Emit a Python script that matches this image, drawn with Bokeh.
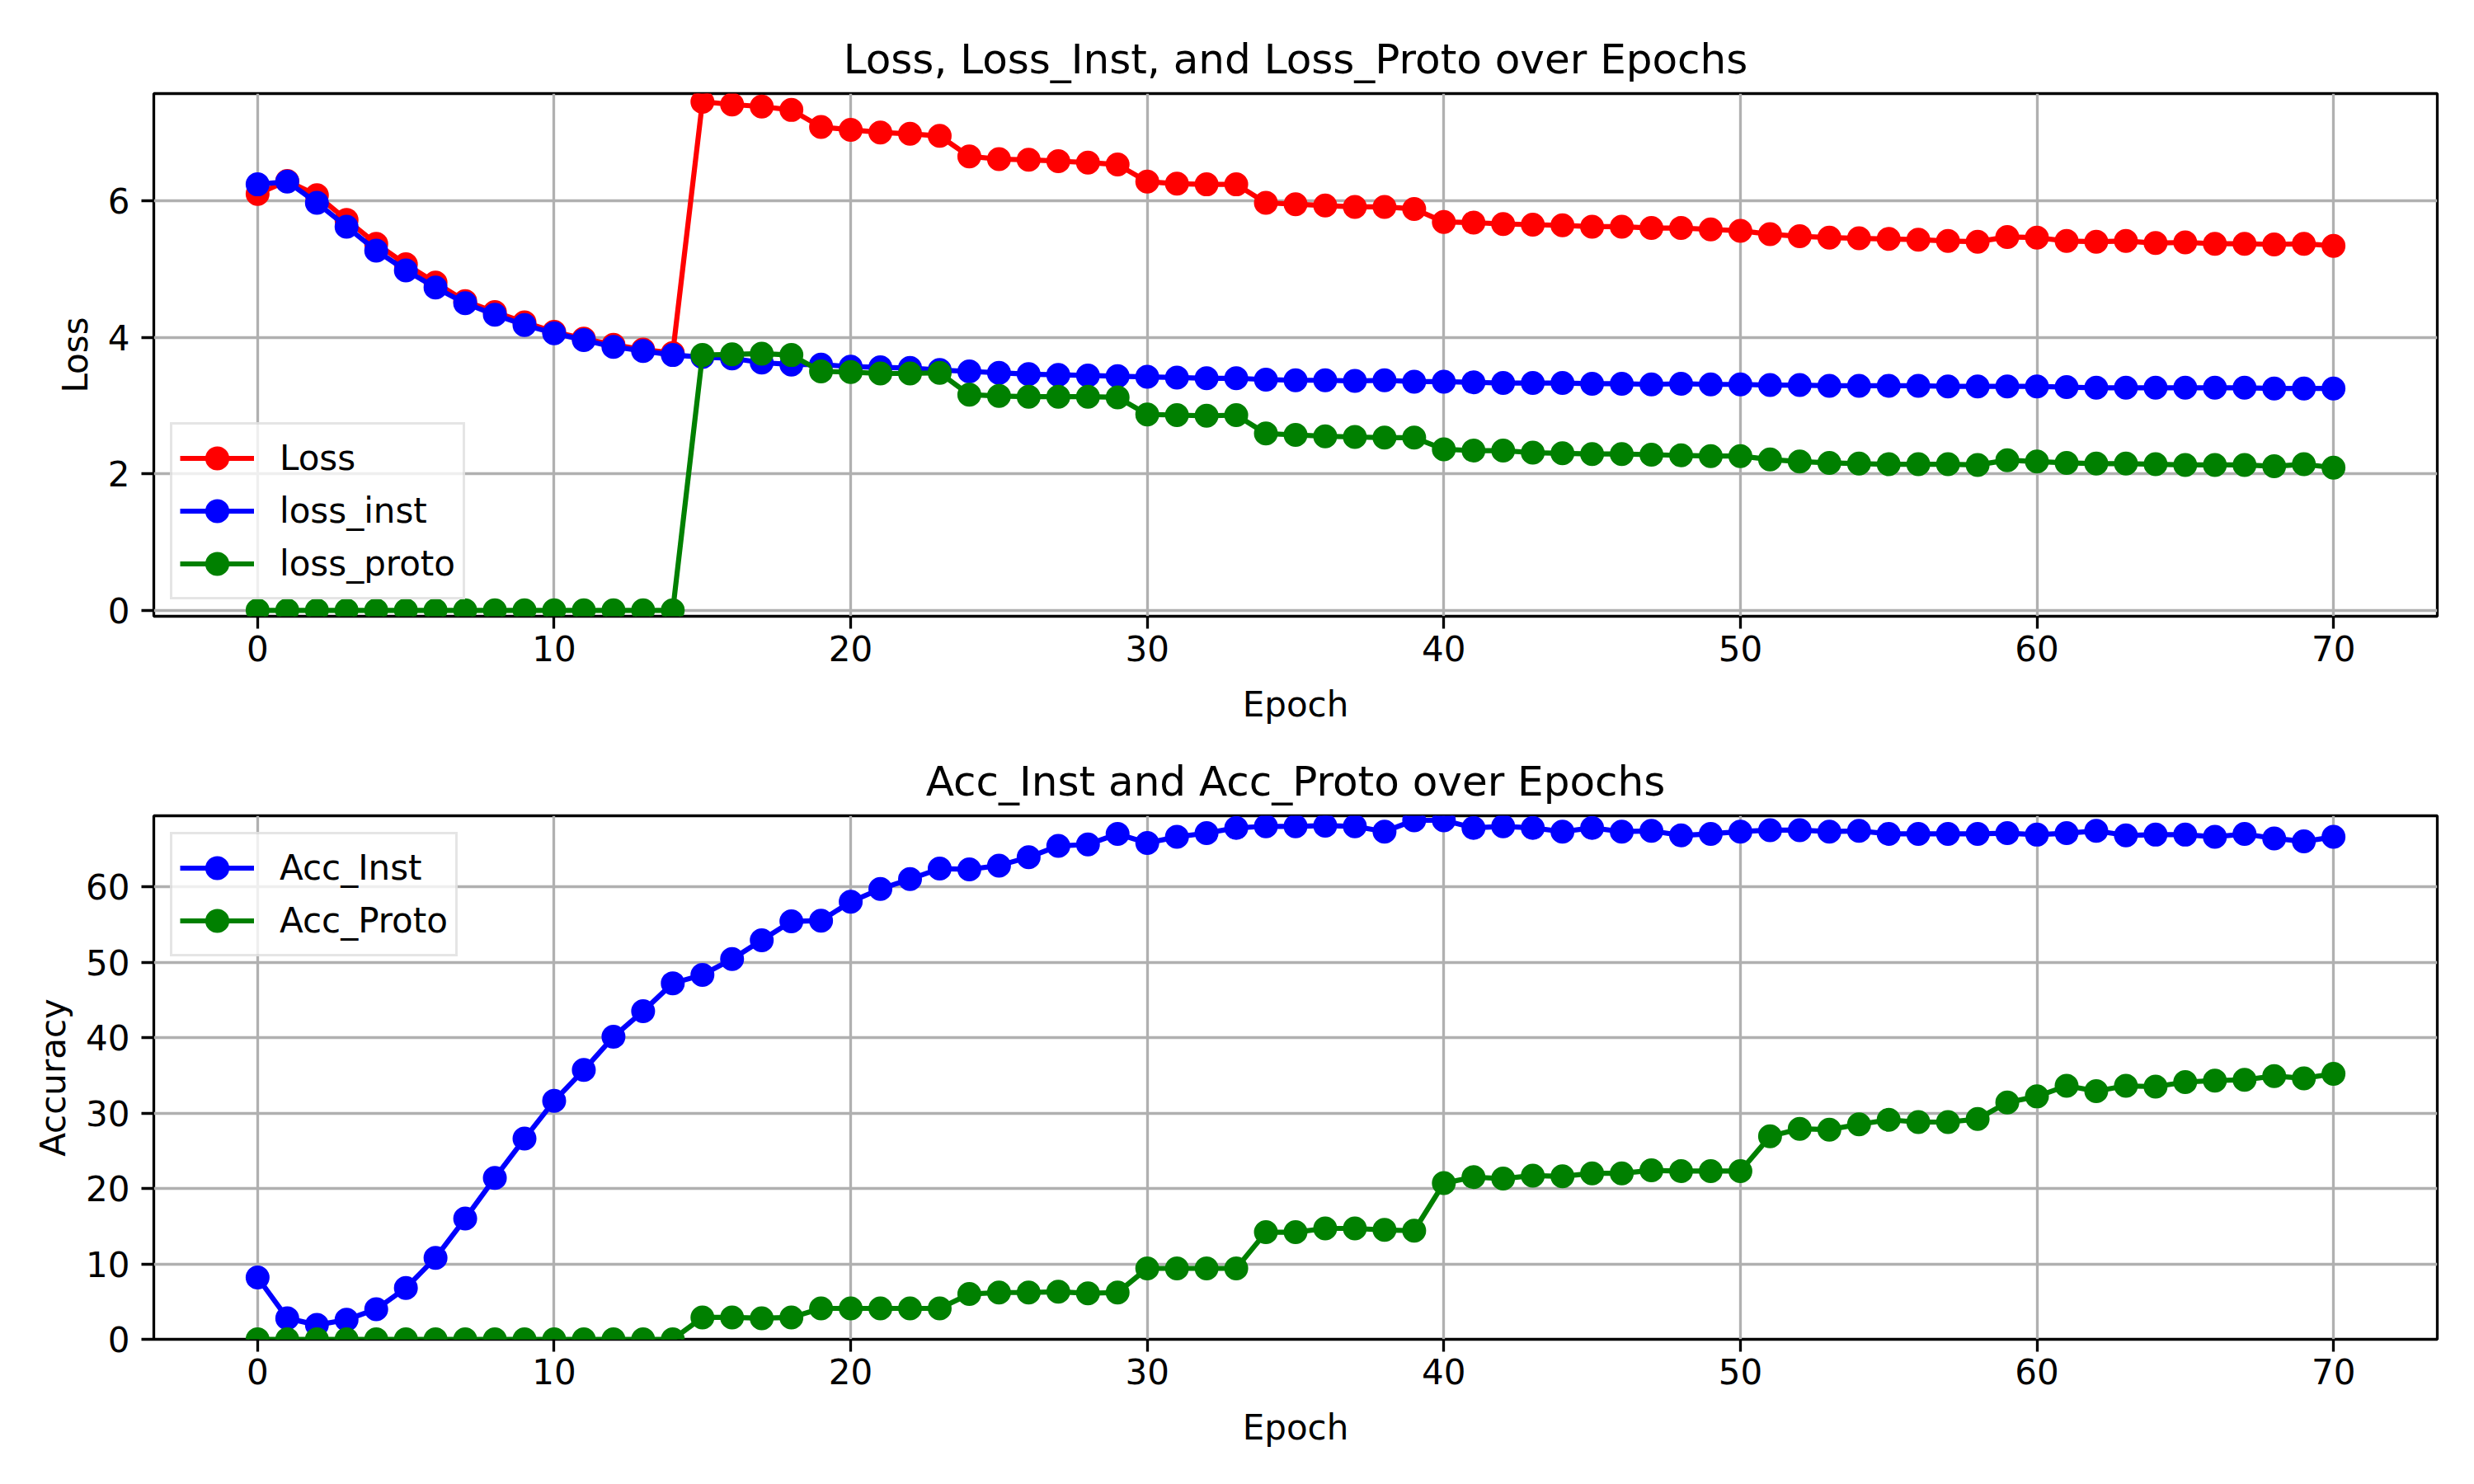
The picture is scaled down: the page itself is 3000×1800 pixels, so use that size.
from bokeh.plotting import figure
from bokeh.layouts import column
from bokeh.models import Range1d, FixedTicker, Legend
from bokeh.embed import file_html
from bokeh.resources import INLINE

epochs = list(range(71))

loss = [6.10, 6.29, 6.08, 5.72, 5.37, 5.07, 4.80, 4.53, 4.37, 4.22,
        4.08, 3.98, 3.89, 3.82, 3.77, 7.45, 7.41, 7.38, 7.33, 7.08,
        7.04, 7.00, 6.98, 6.95, 6.65, 6.61, 6.60, 6.58, 6.56, 6.53,
        6.28, 6.25, 6.24, 6.24, 5.97, 5.95, 5.93, 5.91, 5.91, 5.88,
        5.69, 5.68, 5.66, 5.65, 5.64, 5.62, 5.62, 5.60, 5.60, 5.58,
        5.56, 5.51, 5.48, 5.46, 5.45, 5.44, 5.43, 5.41, 5.40, 5.47,
        5.46, 5.41, 5.40, 5.41, 5.38, 5.39, 5.37, 5.37, 5.36, 5.37,
        5.34]

loss_inst = [6.24, 6.28, 5.97, 5.62, 5.27, 4.98, 4.73, 4.50, 4.33, 4.18,
             4.06, 3.96, 3.86, 3.80, 3.74, 3.71, 3.69, 3.63, 3.60, 3.60,
             3.57, 3.56, 3.55, 3.52, 3.50, 3.48, 3.46, 3.45, 3.44, 3.43,
             3.42, 3.41, 3.40, 3.40, 3.38, 3.37, 3.37, 3.36, 3.37, 3.35,
             3.35, 3.34, 3.33, 3.33, 3.33, 3.32, 3.32, 3.31, 3.32, 3.31,
             3.31, 3.30, 3.30, 3.29, 3.29, 3.29, 3.29, 3.28, 3.28, 3.28,
             3.28, 3.27, 3.26, 3.26, 3.26, 3.26, 3.26, 3.26, 3.25, 3.25,
             3.25]

loss_proto = [0.0, 0.0, 0.0, 0.0, 0.0, 0.0, 0.0, 0.0, 0.0, 0.0,
              0.0, 0.0, 0.0, 0.0, 0.0, 3.74, 3.75, 3.76, 3.74, 3.50,
              3.49, 3.47, 3.47, 3.48, 3.16, 3.14, 3.13, 3.13, 3.13, 3.12,
              2.87, 2.86, 2.85, 2.86, 2.59, 2.57, 2.55, 2.54, 2.53, 2.53,
              2.36, 2.34, 2.34, 2.31, 2.30, 2.29, 2.29, 2.28, 2.27, 2.26,
              2.26, 2.21, 2.18, 2.16, 2.15, 2.14, 2.14, 2.14, 2.13, 2.20,
              2.18, 2.16, 2.15, 2.15, 2.14, 2.13, 2.13, 2.13, 2.11, 2.14,
              2.09]

acc_inst = [8.2, 2.8, 1.9, 2.6, 4.0, 6.8, 10.8, 16.0, 21.4, 26.6,
            31.6, 35.7, 40.1, 43.5, 47.2, 48.3, 50.4, 52.9, 55.4, 55.5,
            58.0, 59.7, 61.0, 62.4, 62.3, 62.8, 63.9, 65.4, 65.6, 67.0,
            65.8, 66.6, 67.1, 67.8, 68.0, 68.0, 68.1, 68.0, 67.3, 68.8,
            68.8, 67.8, 68.0, 67.8, 67.3, 67.8, 67.3, 67.4, 66.8, 67.0,
            67.3, 67.5, 67.5, 67.3, 67.4, 67.0, 67.0, 67.0, 67.0, 67.1,
            66.9, 67.1, 67.4, 66.8, 66.9, 66.9, 66.6, 67.0, 66.4, 66.0,
            66.6]

acc_proto = [0.0, 0.0, 0.0, 0.0, 0.0, 0.0, 0.0, 0.0, 0.0, 0.0,
             0.0, 0.0, 0.0, 0.0, 0.0, 2.9, 2.9, 2.8, 2.9, 4.1,
             4.1, 4.1, 4.1, 4.1, 6.0, 6.2, 6.2, 6.3, 6.1, 6.2,
             9.4, 9.4, 9.4, 9.4, 14.2, 14.2, 14.7, 14.7, 14.5, 14.4,
             20.7, 21.5, 21.3, 21.7, 21.6, 22.0, 22.0, 22.4, 22.3, 22.3,
             22.3, 26.9, 27.9, 27.8, 28.5, 29.1, 28.8, 28.8, 29.2, 31.4,
             32.2, 33.6, 32.9, 33.6, 33.5, 34.1, 34.3, 34.4, 34.9, 34.6,
             35.2]

x_ticks = [0, 10, 20, 30, 40, 50, 60, 70]
loss_ticks = [0, 2, 4, 6]
acc_ticks = [0, 10, 20, 30, 40, 50, 60]

FONT = "DejaVu Sans"


def make_fig(title, ylabel, yrange, yticks, top, bottom):
    p = figure(width=3000, height=900, output_backend="svg", toolbar_location=None,
               x_range=Range1d(-3.5, 73.5), y_range=Range1d(*yrange),
               min_border_left=186, min_border_right=45,
               min_border_top=top, min_border_bottom=bottom,
               title=title)
    p.title.text_font = FONT
    p.title.text_font_size = "50px"
    p.title.text_font_style = "normal"
    p.title.text_color = "black"
    p.title.align = "center"
    p.title.standoff = 26
    p.outline_line_color = "black"
    p.outline_line_width = 3.3
    p.outline_line_alpha = 1.0
    p.background_fill_color = "white"
    p.border_fill_color = "white"
    for ax in (p.xaxis[0], p.yaxis[0]):
        ax.axis_line_color = None
        ax.major_tick_line_color = "black"
        ax.major_tick_line_width = 3.3
        ax.major_tick_out = 15
        ax.major_tick_in = 0
        ax.minor_tick_line_color = None
        ax.major_label_text_font = FONT
        ax.major_label_text_font_size = "42px"
        ax.major_label_text_color = "black"
        ax.axis_label_text_font = FONT
        ax.axis_label_text_font_size = "42px"
        ax.axis_label_text_font_style = "normal"
        ax.axis_label_text_color = "black"
    p.xaxis[0].ticker = FixedTicker(ticks=x_ticks)
    p.yaxis[0].ticker = FixedTicker(ticks=yticks)
    p.xaxis[0].axis_label = "Epoch"
    p.yaxis[0].axis_label = ylabel
    p.xaxis[0].major_label_standoff = 8
    p.xaxis[0].axis_label_standoff = 25
    p.yaxis[0].major_label_standoff = 14
    p.yaxis[0].axis_label_standoff = 12
    for g in (p.xgrid[0], p.ygrid[0]):
        g.grid_line_color = "#b0b0b0"
        g.grid_line_width = 3.3
    p.xgrid[0].ticker = FixedTicker(ticks=x_ticks)
    p.ygrid[0].ticker = FixedTicker(ticks=yticks)
    return p


def add_series(p, ys, color):
    r1 = p.line(epochs, ys, line_color=color, line_width=6.2)
    r2 = p.scatter(epochs, ys, marker="circle", size=25, fill_color=color,
                   line_color=color, line_width=4)
    return [r1, r2]


def style_legend(leg, location):
    leg.location = location
    leg.margin = 20
    leg.padding = 9
    leg.spacing = 1
    leg.glyph_width = 90
    leg.glyph_height = 63
    leg.label_height = 42
    leg.label_standoff = 31
    leg.label_text_font = FONT
    leg.label_text_font_size = "42px"
    leg.label_text_color = "black"
    leg.border_line_color = "#cccccc"
    leg.border_line_width = 3
    leg.background_fill_color = "white"
    leg.background_fill_alpha = 0.8


p1 = make_fig("Loss, Loss_Inst, and Loss_Proto over Epochs", "Loss",
              (-0.087, 7.57), loss_ticks, 113, 153)
items1 = [("Loss", add_series(p1, loss, "red")),
          ("loss_inst", add_series(p1, loss_inst, "blue")),
          ("loss_proto", add_series(p1, loss_proto, "green"))]
leg1 = Legend(items=items1)
style_legend(leg1, "bottom_left")
p1.add_layout(leg1, "center")

p2 = make_fig("Acc_Inst and Acc_Proto over Epochs", "Accuracy",
              (0, 69.4), acc_ticks, 89, 176)
items2 = [("Acc_Inst", add_series(p2, acc_inst, "blue")),
          ("Acc_Proto", add_series(p2, acc_proto, "green"))]
leg2 = Legend(items=items2)
style_legend(leg2, "top_left")
p2.add_layout(leg2, "center")

layout = column(p1, p2)
open("out.html", "w").write(file_html(layout, INLINE))
